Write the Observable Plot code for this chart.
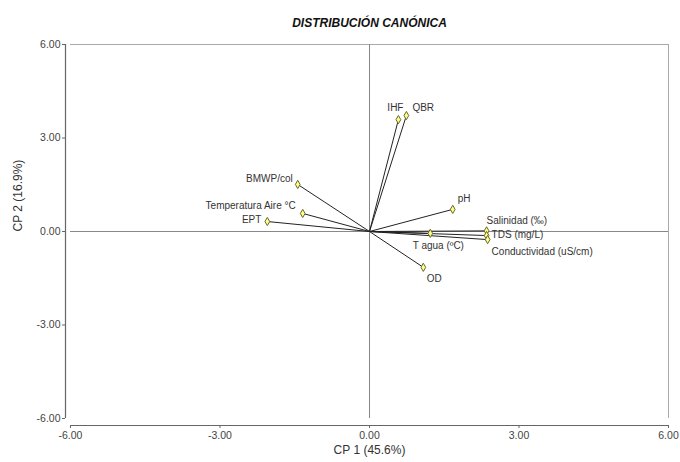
<!DOCTYPE html>
<html><head><meta charset="utf-8">
<script src="https://cdn.jsdelivr.net/npm/d3@7"></script>
<script src="https://cdn.jsdelivr.net/npm/@observablehq/plot@0.6"></script>
<style>body{margin:0;background:#fff} svg{display:block}</style>
</head><body><div id="chart"></div>
<script>
const variables = ["IHF","QBR","pH","Salinidad (‰)","TDS (mg/L)","Conductividad (uS/cm)","T agua (ºC)","OD","BMWP/col","Temperatura Aire °C","EPT"];
const cp1 = [0.58, 0.74, 1.67, 2.35, 2.35, 2.37, 1.22, 1.08, -1.44, -1.34, -2.05];
const cp2 = [3.59, 3.72, 0.71, 0.02, -0.13, -0.26, -0.06, -1.15, 1.51, 0.58, 0.32];
const axisTicks = [-6, -3, 0, 3, 6];
const titleText = "DISTRIBUCIÓN CANÓNICA";
const xLabel = "CP 1 (45.6%)";
const yLabel = "CP 2 (16.9%)";

// label placement (layout only)
const placement = {
  "IHF": {a: "middle", dx: -3, dy: -12},
  "QBR": {a: "start", dx: 6, dy: -8},
  "pH": {a: "start", dx: 5, dy: -11},
  "Salinidad (‰)": {a: "start", dx: 0, dy: -10},
  "TDS (mg/L)": {a: "start", dx: 5, dy: -1},
  "Conductividad (uS/cm)": {a: "start", dx: 4, dy: 12},
  "T agua (ºC)": {a: "middle", dx: 8, dy: 12},
  "OD": {a: "middle", dx: 11, dy: 11},
  "BMWP/col": {a: "end", dx: -5, dy: -6},
  "Temperatura Aire °C": {a: "end", dx: -7, dy: -8},
  "EPT": {a: "end", dx: -6, dy: -2}
};

const rows = variables.map((v, i) => ({name: v, x: cp1[i], y: cp2[i]}));
const fmt = d => d.toFixed(2);

const labelMarks = rows.map(r => {
  const p = placement[r.name];
  return Plot.text([r], {x: "x", y: "y", text: "name", textAnchor: p.a, dx: p.dx, dy: p.dy,
    fontSize: 10, fill: "#333"});
});

const chart = Plot.plot({
  width: 680,
  height: 462,
  marginLeft: 70,
  marginRight: 12,
  marginTop: 44,
  marginBottom: 44,
  style: {fontFamily: "'Liberation Sans', Arial, sans-serif", fontSize: "10.5px", color: "#444", background: "#fff"},
  x: {domain: [-6, 6]},
  y: {domain: [-6, 6]},
  marks: [
    // light frame top and right
    Plot.ruleY([6], {stroke: "#aaa", strokeWidth: 1}),
    Plot.ruleX([6], {stroke: "#aaa", strokeWidth: 1}),
    // reference lines through origin
    Plot.ruleX([0], {stroke: "#888", strokeWidth: 1}),
    Plot.ruleY([0], {stroke: "#888", strokeWidth: 1}),
    // axis lines
    Plot.ruleX([-6], {stroke: "#666", strokeWidth: 1.2, dx: -5}),
    Plot.ruleY([-6], {stroke: "#666", strokeWidth: 1.2, dy: 7}),
    Plot.axisY({ticks: axisTicks, tickFormat: fmt, tickSize: 3, tickPadding: 2, dx: -5, label: null, stroke: "#666"}),
    Plot.axisX({ticks: axisTicks, tickFormat: fmt, tickSize: 3, tickPadding: 3, dy: 7, label: null, stroke: "#666"}),
    // vectors
    Plot.link(rows, {x1: 0, y1: 0, x2: "x", y2: "y", stroke: "#222", strokeWidth: 1}),
    Plot.dot(rows, {x: "x", y: "y", symbol: "diamond", r: 2.5, fill: "#ffff88", stroke: "#666633", strokeWidth: 1}),
    ...labelMarks,
    // title & axis titles
    Plot.text([titleText], {frameAnchor: "top", dy: -26, fontSize: 12, fontWeight: "bold", fontStyle: "italic", fill: "#111"}),
    Plot.text([xLabel], {frameAnchor: "bottom", dy: 35, fontSize: 12, fill: "#333"}),
    Plot.text([yLabel], {frameAnchor: "left", dx: -52, rotate: -90, fontSize: 12, fill: "#333"})
  ]
});
document.getElementById("chart").appendChild(chart);
</script>
</body></html>
